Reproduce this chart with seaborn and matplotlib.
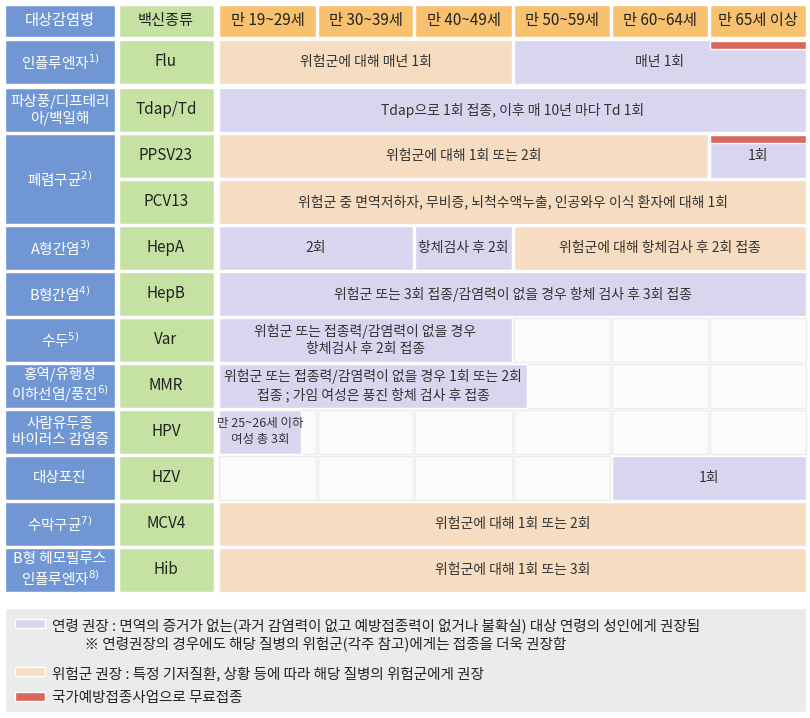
import matplotlib
matplotlib.use("Agg")
import matplotlib.pyplot as plt
import seaborn as sns
import numpy as np

sns.set_theme(style="white")
plt.rcParams['font.family'] = ['Noto Sans CJK KR', 'DejaVu Sans']

age_groups = ["만 19~29세", "만 30~39세", "만 40~49세", "만 50~59세", "만 60~64세", "만 65세 이상"]
diseases = ["인플루엔자$^{1)}$", "파상풍/디프테리\n아/백일해", "폐렴구균$^{2)}$", "", "A형간염$^{3)}$", "B형간염$^{4)}$",
            "수두$^{5)}$", "홍역/유행성\n이하선염/풍진$^{6)}$", "사람유두종\n바이러스 감염증", "대상포진",
            "수막구균$^{7)}$", "B형 헤모필루스\n인플루엔자$^{8)}$"]
vaccines = ["Flu", "Tdap/Td", "PPSV23", "PCV13", "HepA", "HepB", "Var", "MMR", "HPV", "HZV", "MCV4", "Hib"]

# bars: row index, start column, end column (age-column units), kind, label
bar_rows   = [0, 0, 1, 2, 2, 3, 4, 4, 4, 5, 6, 7, 8, 9, 10, 11]
bar_start  = [0, 3, 0, 0, 5, 0, 0, 2, 3, 0, 0, 0, 0, 4, 0, 0]
bar_end    = [3, 6, 6, 5, 6, 6, 2, 3, 6, 6, 3, 3.14, 0.85, 6, 6, 6]
bar_kind   = ["risk", "age", "age", "risk", "age", "risk", "age", "age", "risk", "age", "age", "age", "age", "age", "risk", "risk"]
bar_text   = ["위험군에 대해 매년 1회", "매년 1회", "Tdap으로 1회 접종, 이후 매 10년 마다 Td 1회",
              "위험군에 대해 1회 또는 2회", "1회",
              "위험군 중 면역저하자, 무비증, 뇌척수액누출, 인공와우 이식 환자에 대해 1회",
              "2회", "항체검사 후 2회", "위험군에 대해 항체검사 후 2회 접종",
              "위험군 또는 3회 접종/감염력이 없을 경우 항체 검사 후 3회 접종",
              "위험군 또는 접종력/감염력이 없을 경우\n항체검사 후 2회 접종",
              "위험군 또는 접종력/감염력이 없을 경우 1회 또는 2회\n접종 ; 가임 여성은 풍진 항체 검사 후 접종",
              "만 25~26세 이하\n여성 총 3회", "1회", "위험군에 대해 1회 또는 2회", "위험군에 대해 1회 또는 3회"]
free_rows  = [0, 2]
free_col   = [5, 5]

legend_text = ["연령 권장 : 면역의 증거가 없는(과거 감염력이 없고 예방접종력이 없거나 불확실) 대상 연령의 성인에게 권장됨\n          ※ 연령권장의 경우에도 해당 질병의 위험군(각주 참고)에게는 접종을 더욱 권장함",
               "위험군 권장 : 특정 기저질환, 상황 등에 따라 해당 질병의 위험군에게 권장",
               "국가예방접종사업으로 무료접종"]

BLUE, GREEN, ORANGE = "#7097d3", "#c6e2a3", "#f7c16f"
PEACH, LAV, RED = "#f6dcc0", "#d8d5ee", "#d9675b"
colors = {"age": LAV, "risk": PEACH}

col_l = np.array([219, 318, 415, 514, 612, 710])
col_r = np.array([316, 413, 512, 610, 708, 806])
row_t = np.array([40, 88, 134, 180, 226, 272, 318, 364, 410, 456, 502, 548])
row_h = 44

def xpos(c):
    c = float(c)
    i = int(np.floor(c))
    if i >= 6:
        return col_r[5]
    f = c - i
    if f == 0:
        return col_l[i]
    return col_l[i] + f * (col_r[i] - col_l[i])

def xend(c):
    c = float(c)
    if c == int(c):
        return col_r[int(c) - 1]
    return xpos(c)

fig = plt.figure(figsize=(8.1, 7.18), dpi=100)
ax = fig.add_axes([0, 0, 1, 1])
ax.set_xlim(0, 810); ax.set_ylim(718, 0); ax.axis("off")

# header
ax.barh(5, 110, left=5, height=32, align="edge", color=BLUE)
ax.text(60, 21, "대상감염병", color="white", ha="center", va="center", fontsize=11)
ax.barh(5, 95, left=119, height=32, align="edge", color=GREEN)
ax.text(166, 21, "백신종류", color="#222", ha="center", va="center", fontsize=11)
for i, a in enumerate(age_groups):
    ax.barh(5, col_r[i] - col_l[i], left=col_l[i], height=32, align="edge", color=ORANGE)
    ax.text((col_l[i] + col_r[i]) / 2, 21, a, ha="center", va="center", fontsize=11, color="#222")

# empty cells
for t in row_t:
    for i in range(6):
        ax.barh(t, col_r[i] - col_l[i], left=col_l[i], height=row_h, align="edge",
                color="#fbfbfb", edgecolor="#ececec", lw=1)

# disease column
for r, t in enumerate(row_t):
    if r == 3:
        continue
    h = row_h * 2 + 2 if r == 2 else row_h
    ax.barh(t, 110, left=5, height=h, align="edge", color=BLUE)
    ax.text(60, t + h / 2, diseases[r], color="white", ha="center", va="center",
            fontsize=10.5, linespacing=1.1)
for r, t in enumerate(row_t):
    ax.barh(t, 95, left=119, height=row_h, align="edge", color=GREEN)
    ax.text(166, t + row_h / 2, vaccines[r], color="#222", ha="center", va="center", fontsize=11)

for r, s, e, k, txt in zip(bar_rows, bar_start, bar_end, bar_kind, bar_text):
    x0, x1 = xpos(s), xend(e)
    t = row_t[r]
    ax.barh(t, x1 - x0, left=x0, height=row_h, align="edge", color=colors[k])
    fs = 9 if r == 8 else 10
    ax.text((x0 + x1) / 2, t + row_h / 2, txt, ha="center", va="center", fontsize=fs,
            color="#333", linespacing=1.3)

for r, c in zip(free_rows, free_col):
    ax.barh(row_t[r] + 1, col_r[c] - col_l[c], left=col_l[c], height=8, align="edge", color=RED)

# legend
ax.barh(608, 801, left=5, height=104, align="edge", color="#ebebeb")
leg_y = [623, 671, 696]
for y, c, txt in zip(leg_y, [LAV, PEACH, RED], legend_text):
    ax.barh(y - 4, 30, left=15, height=9, align="edge", color=c)
    ax.text(52, y - 5, txt, ha="left", va="top", fontsize=10.5, color="#222", linespacing=1.3)

fig.savefig("out.png", dpi=100)
